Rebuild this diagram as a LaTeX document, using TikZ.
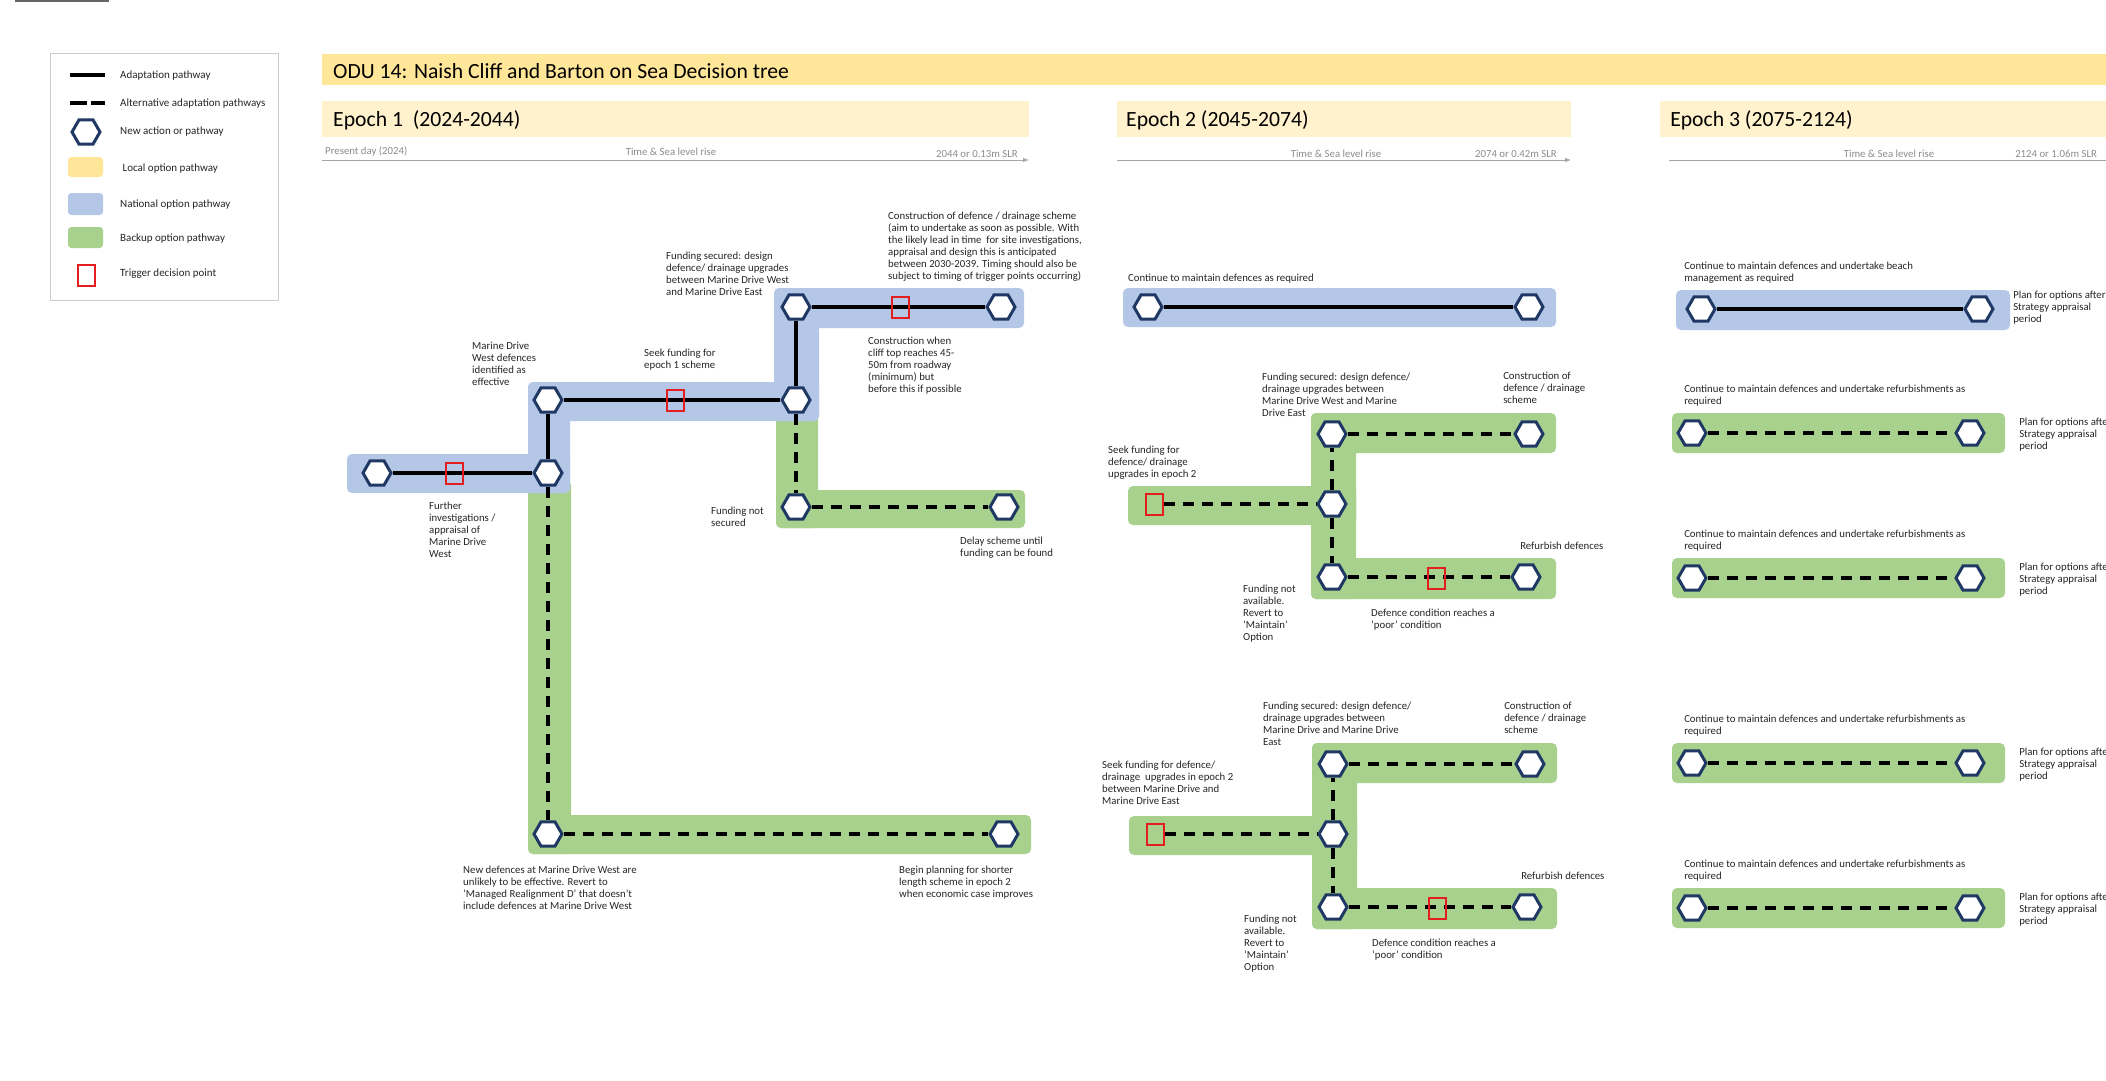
\documentclass[tikz,border=0pt]{standalone}
\usepackage{fontspec}
\setmainfont{Carlito}
\usepackage{tikz}
\usetikzlibrary{shapes.geometric,arrows.meta}

\definecolor{titlebar}{HTML}{FFE699}
\definecolor{epochbar}{HTML}{FFF2CC}
\definecolor{natblue}{HTML}{B4C7E7}
\definecolor{backgreen}{HTML}{A9D18E}
\definecolor{hexblue}{HTML}{1F3864}
\definecolor{trigred}{HTML}{E41E1E}
\definecolor{axisgray}{HTML}{A6A6A6}

\tikzset{
  hexa/.style={regular polygon, regular polygon sides=6, minimum size=8.4mm, inner sep=0pt,
    draw=hexblue, line width=0.9mm, fill=white},
  trig/.style={rectangle, draw=trigred, line width=0.6mm, minimum width=5.1mm,
    minimum height=6.3mm, inner sep=0pt},
  adapt/.style={line width=1.1mm},
  altern/.style={line width=1.1mm, dash pattern=on 3.3mm off 2.4mm},
  natband/.style={fill=natblue, rounded corners=1.5mm},
  backband/.style={fill=backgreen, rounded corners=1.5mm},
  lbl/.style={anchor=north west, inner sep=0pt, align=left, text=black!85,
    font=\fontsize{9.2}{10.3}\selectfont},
  leglbl/.style={anchor=base west, inner sep=0pt, text=black!85,
    font=\fontsize{9.4}{11}\selectfont},
  axislbl/.style={inner sep=0pt, text=black!45, font=\fontsize{9.2}{11}\selectfont},
  headlbl/.style={anchor=base west, inner sep=0pt, font=\fontsize{18.5}{22}\selectfont},
  slraxis/.style={draw=axisgray, line width=0.3mm, -{Latex[length=1.8mm,width=1.4mm]}},
}

\begin{document}
\begin{tikzpicture}[x=0.3mm,y=-0.3mm]
\fill[white, use as bounding box] (0,0) rectangle (2106,1081);
\draw[black!60, line width=0.5mm] (15,1) -- (109,1);

% legend
\draw[gray!40, line width=0.3mm] (50,53) rectangle (278,300);
\draw[line width=1.4mm] (70,75) -- (105,75);
\draw[line width=1.4mm, dash pattern=on 5.1mm off 1.2mm] (70,103) -- (105,103);
\node[hexa] (lghex) at (86,132) {};
\fill[titlebar, rounded corners=1mm] (68,157) rectangle (103,177);
\fill[natblue, rounded corners=1mm] (68,193) rectangle (103,215);
\fill[backgreen, rounded corners=1mm] (68,227) rectangle (103,248);
\node[trig] (lgtrig) at (86,275) {};
\foreach \y/\t in {75/Adaptation pathway, 103/Alternative adaptation pathways,
    131/New action or pathway, 168/\ Local option pathway, 204/National option pathway,
    238/Backup option pathway, 273/Trigger decision point}
  \node[leglbl] (lg\y) at (120,\y+3) {\t};

% title and epoch headers
\fill[titlebar] (322,54) rectangle (2106,85);
\node[headlbl] (title) at (333,78) {ODU 14: Naish Cliff and Barton on Sea Decision tree};
\fill[epochbar] (322,101) rectangle (1029,137);
\fill[epochbar] (1117,101) rectangle (1571,137);
\fill[epochbar] (1660,101) rectangle (2106,137);
\node[headlbl] (ep1) at (333,126) {Epoch 1\ \ (2024-2044)};
\node[headlbl] (ep2) at (1126,126) {Epoch 2 (2045-2074)};
\node[headlbl] (ep3) at (1670,126) {Epoch 3 (2075-2124)};

\draw[slraxis] (322,160) -- (1029,160);
\draw[slraxis] (1117,160) -- (1571,160);
\draw[slraxis] (1669,160) -- (2125,160);
\node[axislbl, anchor=base west] (now) at (325,154) {Present day (2024)};
\node[axislbl, anchor=base] (slr1) at (671,155) {Time \& Sea level rise};
\node[axislbl, anchor=base east] (end1) at (1018,157) {2044 or 0.13m SLR};
\node[axislbl, anchor=base] (slr2) at (1336,157) {Time \& Sea level rise};
\node[axislbl, anchor=base east] (end2) at (1557,157) {2074 or 0.42m SLR};
\node[axislbl, anchor=base] (slr3) at (1889,157) {Time \& Sea level rise};
\node[axislbl, anchor=base west] (end3) at (2015,157) {2124 or 1.06m SLR};

% epoch 1
\fill[backband] (528,480) rectangle (571,854);
\fill[backband] (528,815) rectangle (1031,854);
\fill[backband] (776,410) rectangle (818,528);
\fill[backband] (776,490) rectangle (1025,528);
\fill[natband] (347,454) rectangle (570,493);
\fill[natband] (528,382) rectangle (570,493);
\fill[natband] (528,382) rectangle (819,421);
\fill[natband] (774,288) rectangle (819,421);
\fill[natband] (774,288) rectangle (1024,328);

\node[hexa] (a1) at (377,473) {};
\node[hexa] (a2) at (548,473) {};
\node[hexa] (a3) at (548,400) {};
\node[hexa] (a4) at (796,400) {};
\node[hexa] (a5) at (796,307) {};
\node[hexa] (a6) at (1001,307) {};
\node[hexa] (a7) at (796,507) {};
\node[hexa] (a8) at (1004,507) {};
\node[hexa] (a9) at (548,834) {};
\node[hexa] (a10) at (1004,834) {};

\draw[adapt] (a1) -- (a2);
\draw[adapt] (a2) -- (a3);
\draw[adapt] (a3) -- (a4);
\draw[adapt] (a4) -- (a5);
\draw[adapt] (a5) -- (a6);
\draw[altern] (a4) -- (a7);
\draw[altern] (a7) -- (a8);
\draw[altern] (a2) -- (a9);
\draw[altern] (a9) -- (a10);

\node[trig] (ta1) at (454,473) {};
\node[trig] (ta2) at (675,400) {};
\node[trig] (ta3) at (900,307) {};

\node[lbl] (mdwest) at (472,341.5) {Marine Drive\\West defences\\identified as\\effective};
\node[lbl] (seekone) at (644,348.5) {Seek funding for\\epoch 1 scheme};
\node[lbl] (fundone) at (666,251.5) {Funding secured: design\\defence/ drainage upgrades\\between Marine Drive West\\and Marine Drive East};
\node[lbl] (consone) at (888,211.5) {Construction of defence / drainage scheme\\(aim to undertake as soon as possible. With\\the likely lead in time\ \ for site investigations,\\appraisal and design this is anticipated\\between 2030-2039. Timing should also be\\subject to timing of trigger points occurring)};
\node[lbl] (cliffone) at (868,336.5) {Construction when\\cliff top reaches 45-\\50m from roadway\\(minimum) but\\before this if possible};
\node[lbl] (further) at (429,501.5) {Further\\investigations /\\appraisal of\\Marine Drive\\West};
\node[lbl] (notsec) at (711,506.5) {Funding not\\secured};
\node[lbl] (delay) at (960,536.5) {Delay scheme until\\funding can be found};
\node[lbl] (newdef) at (463,865.5) {New defences at Marine Drive West are\\unlikely to be effective. Revert to\\‘Managed Realignment D’ that doesn’t\\include defences at Marine Drive West};
\node[lbl] (planning) at (899,865.5) {Begin planning for shorter\\length scheme in epoch 2\\when economic case improves};

% epoch 2
\fill[natband] (1123,288) rectangle (1556,327);
\node[hexa] (b1) at (1148,307) {};
\node[hexa] (b2) at (1529,307) {};
\draw[adapt] (b1) -- (b2);
\node[lbl] (maintain) at (1128,273.5) {Continue to maintain defences as required};

\foreach \dx/\dy/\g in {0/0/c,1/330/d}{
  \begin{scope}[shift={(\dx,\dy)}]
  \fill[backband] (1311,413) rectangle (1556,453);
  \fill[backband] (1311,413) rectangle (1356,599);
  \fill[backband] (1128,486) rectangle (1356,525);
  \fill[backband] (1311,558) rectangle (1556,599);
  \node[hexa] (\g1) at (1332,434) {};
  \node[hexa] (\g2) at (1529,434) {};
  \node[hexa] (\g3) at (1332,504) {};
  \node[hexa] (\g4) at (1332,577) {};
  \node[hexa] (\g5) at (1526,577) {};
  \node[trig] (t\g1) at (1154,504) {};
  \draw[altern] (t\g1) -- (\g3);
  \draw[altern] (\g3) -- (\g1);
  \draw[altern] (\g1) -- (\g2);
  \draw[altern] (\g3) -- (\g4);
  \draw[altern] (\g4) -- (\g5);
  \node[trig] (t\g2) at (1436,578) {};
  \node[lbl] (cons\g) at (1503,371.5) {Construction of\\defence / drainage\\scheme};
  \node[lbl] (refurb\g) at (1520,541.5) {Refurbish defences};
  \node[lbl] (revert\g) at (1243,584.5) {Funding not\\available.\\Revert to\\‘Maintain’\\Option};
  \node[lbl] (poor\g) at (1371,608.5) {Defence condition reaches a\\‘poor’ condition};
  \end{scope}
}
\node[lbl] (fundc) at (1262,372.5) {Funding secured: design defence/\\drainage upgrades between\\Marine Drive West and Marine\\Drive East};
\node[lbl] (seekc) at (1108,445.5) {Seek funding for\\defence/ drainage\\upgrades in epoch 2};
\node[lbl] (fundd) at (1263,701.5) {Funding secured: design defence/\\drainage upgrades between\\Marine Drive and Marine Drive\\East};
\node[lbl] (seekd) at (1102,760.5) {Seek funding for defence/\\drainage\ \ upgrades in epoch 2\\between Marine Drive and\\Marine Drive East};

% epoch 3
\fill[natband] (1676,290) rectangle (2010,330);
\node[hexa] (e1) at (1701,309) {};
\node[hexa] (e2) at (1979,309) {};
\draw[adapt] (e1) -- (e2);
\node[lbl] (beach) at (1684,261.5) {Continue to maintain defences and undertake beach\\management as required};
\node[lbl] (after) at (2013,290.5) {Plan for options after\\Strategy appraisal\\period};

\foreach \y/\n in {433/f,578/g,763/h,908/k}{
  \fill[backband] (1672,\y-20) rectangle (2005,\y+20);
  \node[hexa] (\n1) at (1692,\y) {};
  \node[hexa] (\n2) at (1970,\y) {};
  \draw[altern] (\n1) -- (\n2);
  \node[lbl] (\n3) at (1684,\y-48) {Continue to maintain defences and undertake refurbishments as\\required};
  \node[lbl] (\n4) at (2019,\y-15.5) {Plan for options after\\Strategy appraisal\\period};
}
\end{tikzpicture}
\end{document}
